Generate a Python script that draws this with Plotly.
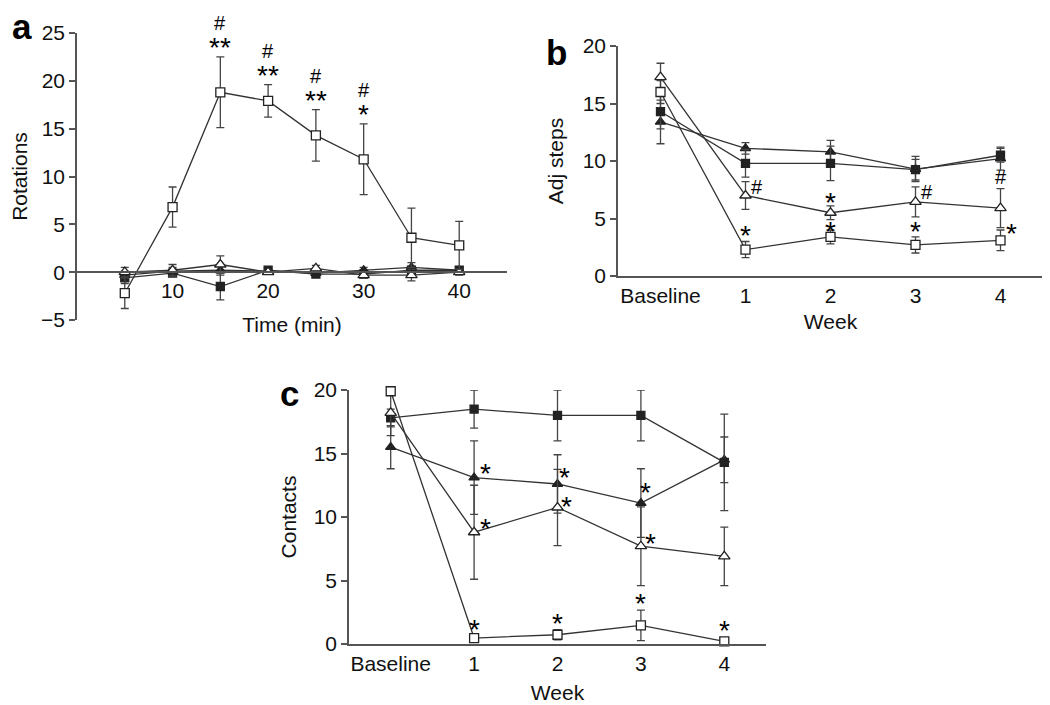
import plotly.graph_objects as go

FONT = "Liberation Sans, Arial, Helvetica, sans-serif"
INK = "#222222"
AXIS = "#555555"

# panel a: rotations over time
time_min = [5, 10, 15, 20, 25, 30, 35, 40]
rot_open_sq = [-2.2, 6.8, 18.8, 17.9, 14.3, 11.8, 3.6, 2.8]
rot_open_sq_err = [1.6, 2.1, 3.7, 1.7, 2.7, 3.7, 3.1, 2.5]
rot_filled_sq = [-0.6, -0.1, -1.5, 0.2, -0.2, -0.2, 0.2, 0.2]
rot_filled_sq_err = [0.6, 0.3, 1.4, 0.2, 0.3, 0.3, 0.4, 0.2]
rot_open_tri = [0.0, 0.2, 0.8, 0.0, 0.4, -0.3, -0.3, 0.0]
rot_open_tri_err = [0.5, 0.6, 0.9, 0.2, 0.3, 0.3, 0.6, 0.3]
rot_filled_tri = [-0.3, 0.1, 0.2, 0.1, -0.1, 0.2, 0.5, 0.2]
rot_filled_tri_err = [0.4, 0.4, 0.5, 0.2, 0.2, 0.3, 0.5, 0.2]

# panels b and c share the week axis
week_labels = ["Baseline", "1", "2", "3", "4"]
week_x = [0, 1, 2, 3, 4]

# panel b: adjusting steps
adj_open_sq = [16.0, 2.3, 3.4, 2.7, 3.1]
adj_open_sq_err = [1.0, 0.7, 0.6, 0.7, 0.9]
adj_filled_sq = [14.3, 9.8, 9.8, 9.25, 10.5]
adj_filled_sq_err = [1.5, 1.2, 1.5, 0.9, 0.6]
adj_filled_tri = [13.4, 11.1, 10.8, 9.3, 10.2]
adj_filled_tri_err = [1.9, 0.5, 1.0, 1.1, 1.0]
adj_open_tri = [17.3, 7.0, 5.5, 6.45, 5.9]
adj_open_tri_err = [1.2, 1.2, 0.6, 1.3, 1.7]

# panel c: contacts
con_open_sq = [19.9, 0.47, 0.73, 1.47, 0.2]
con_open_sq_err = [0.2, 0.1, 0.4, 1.2, 0.1]
con_filled_sq = [17.8, 18.5, 18.0, 18.0, 14.3]
con_filled_sq_err = [0.7, 1.5, 2.0, 2.0, 3.8]
con_filled_tri = [15.5, 13.1, 12.6, 11.1, 14.5]
con_filled_tri_err = [1.7, 2.9, 2.3, 2.7, 1.8]
con_open_tri = [18.2, 8.8, 10.75, 7.7, 6.9]
con_open_tri_err = [1.8, 3.7, 3.0, 3.1, 2.3]

# panel a marks sit on top of the open-square error bars
marks_a_times = [15, 20, 25, 30]
marks_a_stars = ["**", "**", "**", "*"]

# panels b, c significance marks: (x, y, text) in data units
marks_b = [(1.14, 7.7, "#"), (1, 4.0, "*"), (2, 6.9, "*"), (2, 4.4, "*"),
           (3.14, 7.3, "#"), (3, 4.4, "*"), (4, 8.6, "#"), (4.13, 4.2, "*")]
marks_c = [(1.14, 13.9, "*"), (1.14, 9.6, "*"), (1, 1.65, "*"),
           (2.08, 13.6, "*"), (2.11, 11.3, "*"), (2, 2.1, "*"),
           (3.06, 12.4, "*"), (3.11, 8.35, "*"), (3, 3.7, "*"), (4, 1.5, "*")]

STYLES = {
    "filled_sq": dict(symbol="square", color=INK, size=8),
    "filled_tri": dict(symbol="triangle-up", color=INK, size=9),
    "open_tri": dict(symbol="triangle-up", color="white", size=10),
    "open_sq": dict(symbol="square", color="white", size=9),
}

STAR_SIZE = 28
HASH_SIZE = 20

# the page body adds an 8px offset; lay out in screen pixels
PAGE_OFF = 8


def px_x(x):
    return (x - PAGE_OFF) / 1050


def px_y(y):
    return 1 - (y - PAGE_OFF) / 705


def add_series(fig, x, y, err, kind, xa, ya):
    st = STYLES[kind]
    fig.add_trace(go.Scatter(
        x=x, y=y, mode="lines+markers", xaxis=xa, yaxis=ya,
        line=dict(color="#333333", width=1.3),
        marker=dict(symbol=st["symbol"], size=st["size"], color=st["color"],
                    line=dict(color=INK, width=1.3)),
        error_y=dict(type="data", array=err, color="#444444", thickness=1.3, width=4),
        showlegend=False, cliponaxis=False,
    ))


def mark(x, y, txt, xr, yr, **kw):
    star = "*" in txt
    d = dict(x=x, y=y, xref=xr, yref=yr, text=txt, showarrow=False,
             font=dict(size=STAR_SIZE if star else HASH_SIZE, color="black", family=FONT),
             yshift=-6 if star else 0)
    d.update(kw)
    return d


fig = go.Figure()

add_series(fig, time_min, rot_filled_tri, rot_filled_tri_err, "filled_tri", "x", "y")
add_series(fig, time_min, rot_filled_sq, rot_filled_sq_err, "filled_sq", "x", "y")
add_series(fig, time_min, rot_open_tri, rot_open_tri_err, "open_tri", "x", "y")
add_series(fig, time_min, rot_open_sq, rot_open_sq_err, "open_sq", "x", "y")

add_series(fig, week_x, adj_filled_tri, adj_filled_tri_err, "filled_tri", "x2", "y2")
add_series(fig, week_x, adj_filled_sq, adj_filled_sq_err, "filled_sq", "x2", "y2")
add_series(fig, week_x, adj_open_tri, adj_open_tri_err, "open_tri", "x2", "y2")
add_series(fig, week_x, adj_open_sq, adj_open_sq_err, "open_sq", "x2", "y2")

add_series(fig, week_x, con_filled_tri, con_filled_tri_err, "filled_tri", "x3", "y3")
add_series(fig, week_x, con_filled_sq, con_filled_sq_err, "filled_sq", "x3", "y3")
add_series(fig, week_x, con_open_tri, con_open_tri_err, "open_tri", "x3", "y3")
add_series(fig, week_x, con_open_sq, con_open_sq_err, "open_sq", "x3", "y3")

annotations = []
for t, stars in zip(marks_a_times, marks_a_stars):
    i = time_min.index(t)
    top = rot_open_sq[i] + rot_open_sq_err[i]
    annotations.append(mark(t, top, stars, "x", "y", yanchor="bottom", yshift=-8))
    annotations.append(mark(t, top, "#", "x", "y", yanchor="bottom", yshift=21))
for marks, xr, yr in [(marks_b, "x2", "y2"), (marks_c, "x3", "y3")]:
    for mx, my, txt in marks:
        annotations.append(mark(mx, my, txt, xr, yr))

for letter, lx, ly in [("a", 22, 26), ("b", 556, 53), ("c", 289, 393)]:
    annotations.append(dict(
        x=px_x(lx), y=px_y(ly), xref="paper", yref="paper",
        xanchor="center", yanchor="middle",
        text=f"<b>{letter}</b>", showarrow=False,
        font=dict(size=35, color="black", family=FONT),
    ))

tick_font = dict(size=21, color="#111111", family=FONT)
title_font = dict(size=21, color="#111111", family=FONT)
yax_common = dict(showline=True, linecolor=AXIS, linewidth=1.5, ticks="outside",
                  ticklen=6, tickcolor=AXIS, tickwidth=1.5, showgrid=False,
                  zeroline=False, tickfont=tick_font, dtick=5, automargin=False)
xax_common = dict(showline=True, linecolor=AXIS, linewidth=1.5, ticks="",
                  showgrid=False, zeroline=False, tickfont=tick_font, automargin=False)

fig.update_layout(
    template="none",
    width=1050, height=705,
    margin=dict(l=0, r=0, t=0, b=0),
    paper_bgcolor="white", plot_bgcolor="white",
    font=dict(family=FONT),
    xaxis=dict(**xax_common, domain=[px_x(77), px_x(507)], range=[0, 45],
               tickvals=[10, 20, 30, 40], anchor="free", position=px_y(272),
               title=dict(text="Time (min)", font=title_font, standoff=15)),
    yaxis=dict(**yax_common, domain=[px_y(320), px_y(33)], range=[-5, 25],
               anchor="x", title=dict(text="Rotations", font=title_font, standoff=8)),
    xaxis2=dict(**xax_common, domain=[px_x(618), px_x(1043)], range=[-0.5, 4.5],
                tickvals=week_x, ticktext=week_labels, anchor="y2",
                title=dict(text="Week", font=title_font, standoff=8)),
    yaxis2=dict(**yax_common, domain=[px_y(276), px_y(46)], range=[0, 20],
                anchor="x2", title=dict(text="Adj steps", font=title_font, standoff=13)),
    xaxis3=dict(**xax_common, domain=[px_x(349), px_x(766)], range=[-0.5, 4.5],
                tickvals=week_x, ticktext=week_labels, anchor="y3",
                title=dict(text="Week", font=title_font, standoff=11)),
    yaxis3=dict(**yax_common, domain=[px_y(644), px_y(390)], range=[0, 20],
                anchor="x3", title=dict(text="Contacts", font=title_font, standoff=11)),
    annotations=annotations,
)

fig.write_html("out.html")
